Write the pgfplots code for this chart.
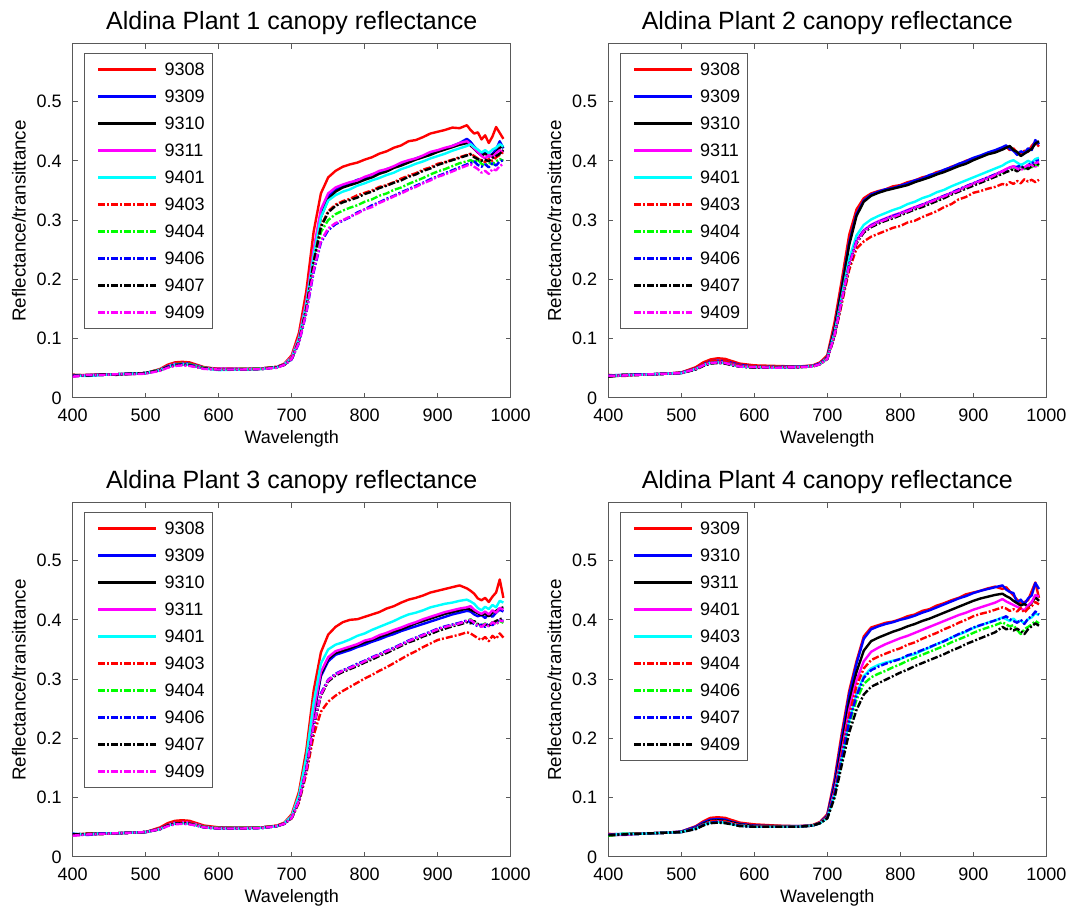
\documentclass[border=0pt]{standalone}
\usepackage{fontspec}
\setmainfont{Liberation Sans}
\usepackage{pgfplots}
\usepackage{pgfplotstable}
\pgfplotsset{compat=1.18}
\usepgfplotslibrary{groupplots}

\definecolor{mred}{rgb}{1,0,0}
\definecolor{mgreen}{rgb}{0,1,0}
\definecolor{mblue}{rgb}{0,0,1}
\definecolor{mcyan}{rgb}{0,1,1}
\definecolor{mmag}{rgb}{1,0,1}
\definecolor{mblack}{rgb}{0,0,0}

% Plant 1: 9308 9309 9310 9311 9401 | 9403 9404 9406 9407 9409
\pgfplotstableread{
w a b c d e f g h i j
400 .038 .037 .039 .036 .038 .039 .037 .038 .037 .036
420 .039 .038 .038 .039 .037 .038 .039 .038 .038 .039
440 .039 .039 .040 .039 .039 .040 .039 .039 .040 .039
460 .040 .040 .040 .040 .040 .040 .040 .040 .039 .040
480 .041 .041 .041 .040 .041 .041 .040 .041 .041 .040
500 .042 .042 .042 .042 .042 .042 .042 .042 .042 .041
520 .049 .048 .047 .048 .047 .048 .048 .047 .047 .046
530 .056 .054 .052 .054 .053 .054 .053 .053 .052 .051
540 .060 .058 .056 .058 .056 .058 .057 .056 .055 .054
550 .061 .059 .057 .058 .057 .059 .058 .057 .056 .055
560 .060 .058 .056 .057 .056 .058 .057 .056 .055 .054
570 .056 .055 .053 .054 .053 .055 .054 .053 .052 .052
580 .052 .051 .050 .051 .050 .051 .051 .050 .050 .049
600 .049 .049 .048 .049 .047 .049 .048 .048 .048 .048
630 .049 .049 .048 .049 .048 .049 .049 .048 .048 .048
660 .050 .050 .049 .050 .049 .050 .050 .049 .049 .049
680 .052 .052 .052 .052 .052 .053 .052 .052 .052 .051
690 .058 .057 .056 .057 .057 .057 .056 .056 .056 .056
700 .072 .068 .067 .069 .068 .067 .066 .065 .066 .066
710 .110 .100 .098 .102 .100 .097 .095 .093 .096 .094
720 .180 .160 .155 .163 .158 .152 .148 .143 .150 .145
730 .280 .245 .238 .250 .240 .230 .222 .212 .228 .215
740 .345 .312 .305 .318 .305 .290 .280 .262 .288 .265
750 .372 .340 .335 .345 .333 .315 .300 .283 .313 .286
760 .383 .352 .348 .355 .342 .326 .310 .293 .324 .295
770 .390 .358 .355 .360 .348 .332 .316 .299 .330 .300
780 .394 .362 .359 .364 .352 .336 .321 .305 .334 .306
790 .397 .368 .363 .367 .358 .342 .325 .313 .338 .311
800 .402 .371 .368 .373 .362 .346 .331 .318 .344 .318
810 .406 .377 .372 .377 .367 .350 .335 .325 .348 .322
820 .412 .380 .378 .383 .371 .356 .341 .330 .354 .329
830 .416 .386 .382 .386 .376 .359 .345 .336 .358 .334
840 .422 .389 .388 .391 .380 .364 .351 .341 .363 .340
850 .426 .395 .392 .397 .386 .370 .355 .347 .367 .345
860 .433 .399 .397 .401 .390 .375 .361 .352 .373 .351
870 .435 .404 .402 .404 .395 .379 .366 .358 .377 .356
880 .440 .408 .406 .409 .399 .385 .371 .363 .383 .362
890 .446 .413 .410 .415 .404 .389 .377 .369 .387 .367
900 .449 .417 .415 .418 .408 .395 .382 .374 .393 .373
910 .452 .420 .419 .422 .412 .398 .386 .379 .397 .377
920 .456 .425 .423 .425 .417 .402 .391 .384 .401 .382
930 .455 .430 .427 .430 .421 .406 .396 .389 .405 .387
940 .460 .437 .430 .433 .425 .410 .399 .394 .409 .392
945 .452 .432 .426 .428 .428 .412 .401 .396 .411 .394
950 .446 .424 .420 .421 .423 .408 .398 .399 .406 .390
955 .448 .418 .414 .415 .419 .404 .402 .393 .403 .386
960 .436 .410 .409 .408 .414 .401 .395 .390 .400 .380
965 .443 .414 .412 .404 .418 .398 .392 .394 .402 .383
970 .430 .407 .408 .410 .413 .403 .397 .389 .399 .378
975 .441 .412 .410 .406 .419 .400 .394 .396 .405 .386
980 .457 .419 .414 .413 .422 .406 .399 .392 .408 .384
985 .447 .433 .422 .418 .428 .410 .403 .399 .412 .391
990 .437 .421 .425 .414 .424 .415 .400 .401 .418 .395
}\plantone

% Plant 2
\pgfplotstableread{
w a b c d e f g h i j
400 .037 .038 .036 .037 .038 .039 .037 .038 .036 .037
420 .038 .039 .038 .039 .038 .037 .039 .038 .039 .038
440 .039 .039 .040 .039 .039 .039 .039 .040 .039 .039
460 .040 .040 .040 .040 .040 .040 .040 .040 .040 .040
480 .041 .041 .041 .041 .041 .041 .041 .041 .041 .041
500 .043 .043 .042 .042 .042 .043 .042 .042 .042 .042
520 .052 .050 .049 .049 .049 .050 .049 .049 .048 .049
530 .060 .057 .056 .056 .055 .057 .055 .055 .054 .055
540 .065 .062 .060 .060 .059 .062 .059 .059 .058 .059
550 .067 .063 .061 .061 .060 .063 .060 .060 .059 .060
560 .066 .062 .060 .060 .059 .062 .059 .059 .058 .059
570 .062 .059 .057 .057 .056 .058 .056 .056 .055 .056
580 .058 .056 .054 .054 .053 .055 .053 .053 .053 .053
600 .055 .053 .052 .052 .052 .053 .052 .052 .051 .052
630 .054 .053 .052 .052 .051 .053 .052 .051 .051 .051
660 .053 .053 .052 .052 .052 .052 .052 .052 .052 .052
680 .055 .054 .054 .054 .054 .054 .053 .054 .053 .053
690 .060 .058 .058 .058 .058 .058 .057 .058 .057 .057
700 .072 .069 .068 .067 .067 .066 .066 .066 .066 .066
710 .128 .118 .116 .108 .110 .104 .106 .107 .105 .106
720 .200 .188 .185 .168 .172 .160 .166 .167 .164 .166
730 .275 .262 .258 .228 .235 .216 .224 .226 .222 .224
740 .318 .310 .307 .266 .274 .252 .263 .265 .261 .263
750 .337 .333 .331 .283 .292 .264 .281 .282 .279 .281
760 .345 .343 .341 .292 .301 .272 .290 .291 .288 .290
770 .349 .348 .346 .298 .307 .277 .296 .297 .294 .296
780 .352 .352 .350 .303 .312 .282 .301 .302 .299 .301
790 .357 .354 .353 .308 .317 .287 .305 .307 .303 .305
800 .359 .358 .356 .312 .321 .290 .310 .311 .308 .310
810 .364 .362 .359 .317 .327 .296 .314 .316 .313 .315
820 .367 .367 .364 .322 .331 .299 .319 .321 .318 .320
830 .372 .370 .368 .326 .337 .305 .324 .326 .322 .325
840 .375 .376 .372 .331 .341 .310 .329 .331 .327 .330
850 .381 .379 .377 .336 .347 .315 .333 .336 .332 .335
860 .384 .385 .381 .341 .351 .322 .339 .341 .337 .340
870 .390 .389 .386 .346 .357 .327 .344 .346 .343 .345
880 .394 .395 .391 .351 .362 .335 .350 .352 .348 .350
890 .400 .399 .395 .357 .367 .339 .355 .357 .353 .356
900 .404 .405 .401 .362 .372 .346 .361 .362 .358 .361
910 .407 .409 .406 .367 .377 .349 .366 .367 .363 .366
920 .412 .414 .411 .372 .382 .353 .370 .372 .368 .370
930 .416 .418 .414 .377 .387 .356 .375 .377 .373 .376
940 .420 .423 .419 .383 .392 .361 .380 .382 .378 .382
945 .424 .426 .422 .386 .396 .359 .383 .385 .381 .386
950 .418 .420 .425 .389 .399 .364 .386 .388 .383 .388
955 .421 .417 .418 .391 .401 .361 .388 .389 .386 .390
960 .414 .410 .415 .388 .397 .366 .385 .390 .382 .387
965 .410 .416 .408 .391 .393 .362 .390 .392 .387 .384
970 .417 .413 .412 .386 .396 .369 .386 .387 .390 .389
975 .415 .421 .416 .392 .400 .365 .392 .393 .386 .393
980 .425 .418 .420 .395 .397 .368 .389 .396 .391 .390
985 .432 .435 .429 .390 .403 .364 .394 .399 .393 .396
990 .424 .428 .433 .396 .405 .368 .392 .401 .395 .398
}\planttwo

% Plant 3
\pgfplotstableread{
w a b c d e f g h i j
400 .038 .039 .037 .036 .039 .038 .037 .039 .038 .036
420 .039 .038 .039 .038 .038 .039 .038 .037 .039 .038
440 .039 .039 .040 .039 .040 .039 .039 .040 .039 .039
460 .040 .040 .040 .040 .040 .040 .040 .040 .040 .040
480 .041 .041 .041 .041 .041 .041 .041 .041 .041 .041
500 .042 .042 .042 .042 .042 .042 .042 .042 .042 .042
520 .050 .048 .048 .048 .047 .048 .047 .047 .047 .047
530 .057 .054 .054 .054 .053 .054 .053 .053 .053 .052
540 .061 .058 .058 .058 .056 .058 .056 .056 .056 .055
550 .062 .059 .058 .059 .057 .059 .057 .057 .057 .056
560 .061 .058 .057 .058 .056 .058 .056 .056 .056 .055
570 .057 .055 .054 .055 .053 .055 .054 .053 .053 .053
580 .053 .051 .051 .051 .050 .051 .051 .050 .050 .050
600 .050 .049 .049 .049 .048 .049 .049 .048 .048 .048
630 .049 .049 .049 .049 .048 .049 .049 .048 .048 .048
660 .050 .050 .050 .050 .049 .050 .050 .049 .049 .049
680 .053 .052 .052 .052 .052 .053 .052 .052 .052 .052
690 .058 .057 .057 .057 .057 .057 .056 .056 .056 .056
700 .072 .067 .067 .068 .069 .065 .066 .066 .066 .066
710 .110 .098 .099 .101 .104 .092 .095 .095 .094 .095
720 .180 .155 .157 .160 .168 .140 .148 .148 .146 .147
730 .280 .238 .240 .245 .260 .205 .222 .222 .219 .221
740 .345 .305 .308 .312 .326 .245 .275 .276 .272 .274
750 .375 .330 .334 .337 .350 .262 .298 .299 .296 .298
760 .388 .341 .344 .347 .358 .272 .308 .309 .306 .308
770 .396 .345 .348 .351 .362 .280 .314 .315 .312 .314
780 .400 .349 .352 .355 .367 .287 .319 .320 .317 .319
790 .401 .354 .357 .359 .373 .294 .324 .326 .322 .324
800 .405 .358 .362 .365 .377 .301 .330 .331 .328 .330
810 .409 .363 .366 .368 .383 .307 .335 .337 .333 .336
820 .413 .367 .371 .374 .388 .314 .341 .342 .339 .341
830 .419 .372 .375 .378 .393 .320 .346 .348 .344 .347
840 .423 .376 .380 .383 .398 .327 .352 .353 .350 .352
850 .429 .381 .384 .387 .404 .334 .357 .359 .356 .358
860 .434 .385 .389 .392 .409 .341 .364 .365 .362 .364
870 .437 .389 .394 .396 .412 .347 .368 .370 .366 .369
880 .441 .393 .398 .401 .416 .354 .374 .375 .372 .374
890 .446 .397 .402 .405 .421 .360 .378 .380 .376 .379
900 .449 .401 .406 .409 .424 .366 .383 .385 .381 .384
910 .452 .405 .410 .413 .427 .369 .387 .389 .385 .388
920 .455 .409 .413 .416 .429 .372 .391 .392 .389 .391
930 .458 .412 .416 .419 .432 .375 .394 .395 .392 .394
940 .453 .415 .419 .421 .434 .379 .398 .399 .396 .398
945 .449 .414 .417 .423 .431 .377 .401 .396 .394 .400
950 .444 .409 .414 .417 .427 .373 .396 .393 .398 .395
955 .436 .406 .411 .413 .420 .369 .392 .389 .393 .391
960 .433 .408 .408 .410 .416 .366 .390 .392 .389 .388
965 .437 .403 .410 .414 .422 .371 .394 .388 .392 .393
970 .430 .410 .406 .409 .418 .364 .389 .394 .390 .389
975 .439 .405 .412 .416 .425 .373 .396 .391 .395 .396
980 .446 .412 .415 .412 .421 .368 .392 .397 .398 .392
985 .468 .417 .419 .420 .432 .377 .398 .400 .401 .399
990 .437 .414 .421 .417 .429 .370 .395 .398 .403 .397
}\plantthree

% Plant 4: 9309 9310 9311 9401 9403 | 9404 9406 9407 9409
\pgfplotstableread{
w a b c d e f g h i
400 .037 .038 .036 .038 .037 .039 .036 .038 .037
420 .038 .039 .038 .037 .039 .038 .039 .038 .038
440 .039 .039 .040 .039 .039 .040 .039 .039 .039
460 .040 .040 .040 .040 .040 .040 .040 .040 .040
480 .041 .041 .041 .041 .041 .041 .041 .041 .041
500 .043 .043 .042 .042 .042 .042 .042 .042 .042
520 .052 .051 .049 .048 .048 .049 .048 .048 .047
530 .060 .058 .056 .054 .054 .055 .054 .054 .053
540 .066 .063 .061 .059 .058 .060 .058 .058 .057
550 .067 .064 .062 .060 .059 .061 .059 .059 .058
560 .066 .063 .061 .059 .058 .060 .058 .058 .057
570 .062 .059 .058 .056 .055 .057 .055 .055 .055
580 .058 .056 .055 .053 .053 .054 .053 .053 .052
600 .055 .053 .052 .051 .051 .052 .051 .051 .051
630 .053 .052 .052 .051 .051 .052 .051 .051 .051
660 .052 .052 .051 .051 .051 .051 .051 .051 .051
680 .054 .053 .053 .053 .053 .053 .053 .053 .053
690 .059 .058 .058 .058 .057 .058 .057 .057 .057
700 .072 .070 .068 .067 .066 .067 .066 .066 .065
710 .132 .126 .118 .112 .106 .110 .104 .106 .100
720 .210 .202 .190 .178 .168 .174 .163 .167 .156
730 .280 .274 .262 .248 .230 .240 .224 .228 .210
740 .330 .326 .312 .298 .275 .288 .265 .272 .248
750 .372 .368 .348 .330 .305 .318 .292 .302 .274
760 .387 .384 .364 .346 .318 .332 .303 .315 .287
770 .391 .389 .370 .353 .324 .338 .309 .321 .293
780 .395 .393 .375 .359 .328 .343 .314 .326 .299
790 .397 .396 .380 .364 .331 .348 .320 .330 .305
800 .401 .400 .384 .369 .334 .352 .325 .334 .311
810 .406 .403 .389 .373 .339 .358 .331 .340 .316
820 .409 .407 .393 .378 .342 .362 .336 .344 .322
830 .415 .412 .398 .383 .348 .368 .341 .349 .327
840 .418 .416 .402 .388 .353 .373 .346 .354 .332
850 .424 .421 .407 .393 .359 .378 .351 .359 .337
860 .428 .426 .412 .398 .364 .384 .356 .364 .342
870 .433 .431 .417 .403 .370 .389 .362 .370 .348
880 .437 .436 .422 .408 .375 .395 .367 .376 .353
890 .443 .440 .427 .412 .380 .400 .372 .381 .359
900 .446 .445 .432 .417 .386 .406 .378 .387 .364
910 .449 .449 .436 .421 .391 .410 .383 .391 .369
920 .453 .452 .439 .425 .395 .413 .387 .395 .374
930 .456 .455 .442 .429 .399 .417 .391 .399 .379
940 .452 .458 .444 .435 .404 .421 .396 .403 .388
945 .455 .451 .440 .431 .401 .419 .392 .406 .384
950 .448 .447 .437 .428 .398 .415 .389 .401 .386
955 .441 .445 .432 .425 .402 .418 .391 .398 .382
960 .434 .429 .428 .422 .396 .414 .383 .395 .385
965 .427 .434 .424 .419 .399 .420 .376 .400 .381
970 .430 .426 .427 .416 .394 .412 .384 .393 .376
975 .433 .436 .422 .424 .401 .419 .388 .402 .384
980 .448 .441 .429 .430 .404 .423 .392 .406 .389
985 .463 .462 .438 .442 .411 .430 .398 .414 .394
990 .437 .452 .432 .439 .408 .426 .394 .409 .390
}\plantfour

\pgfplotsset{
  sl/.style={line width=1.2pt, solid, line join=round},
  dd/.style={line width=1.2pt, dash pattern=on 3.5pt off 1pt on 1pt off 1pt, line join=round},
}

\begin{document}
\begin{tikzpicture}
\begin{groupplot}[
  group style={group size=2 by 2, horizontal sep=48.8pt, vertical sep=52.5pt},
  scale only axis, width=219pt, height=177pt,
  xmin=400, xmax=1000, ymin=0, ymax=0.597,
  xtick={400,500,600,700,800,900,1000},
  xticklabels={400,500,600,700,800,900,1000},
  ytick={0,0.1,0.2,0.3,0.4,0.5},
  yticklabels={0,0.1,0.2,0.3,0.4,0.5},
  tick align=inside, major tick length=2.5pt,
  axis line style={black!65, line width=0.5pt},
  tick style={black!65, line width=0.5pt},
  ticklabel style={font=\fontsize{9}{11}\selectfont},
  xticklabel style={yshift=-1.7pt},
  yticklabel style={xshift=-2pt},
  xlabel={Wavelength},
  ylabel={Reflectance/transittance},
  xlabel style={font=\fontsize{9}{11}\selectfont, at={(axis description cs:0.5,0)}, anchor=base, yshift=-23pt},
  ylabel style={font=\fontsize{9.4}{11}\selectfont, at={(axis description cs:-0.1228,0.5)}, anchor=center},
  every axis title shift=0pt,
  title style={at={(axis description cs:0.5,1)}, anchor=base, yshift=7pt, font=\fontsize{12.5}{15}\selectfont},
  no markers,
  legend cell align=left,
  legend image code/.code={\path (0pt,0pt); \draw[#1] (6.2pt,0pt) -- (35pt,0pt);},
  legend style={at={(0.0265,0.975)}, anchor=north west, draw=black!65, line width=0.5pt,
    fill=white, inner xsep=0pt, inner ysep=1.4pt, row sep=0pt,
    font=\fontsize{9}{11}\selectfont,
    nodes={inner xsep=3.7pt, inner ysep=0pt, text height=9.8pt, text depth=3.7pt}},
]
\nextgroupplot[title={Aldina Plant 1 canopy reflectance}]
\addplot[sl, mred] table[x=w, y=a] {\plantone};
\addplot[sl, mblue] table[x=w, y=b] {\plantone};
\addplot[sl, mblack] table[x=w, y=c] {\plantone};
\addplot[sl, mmag] table[x=w, y=d] {\plantone};
\addplot[sl, mcyan] table[x=w, y=e] {\plantone};
\addplot[dd, mred] table[x=w, y=f] {\plantone};
\addplot[dd, mgreen] table[x=w, y=g] {\plantone};
\addplot[dd, mblue] table[x=w, y=h] {\plantone};
\addplot[dd, mblack] table[x=w, y=i] {\plantone};
\addplot[dd, mmag] table[x=w, y=j] {\plantone};
\legend{9308,9309,9310,9311,9401,9403,9404,9406,9407,9409}

\nextgroupplot[title={Aldina Plant 2 canopy reflectance}]
\addplot[sl, mred] table[x=w, y=a] {\planttwo};
\addplot[sl, mblue] table[x=w, y=b] {\planttwo};
\addplot[sl, mblack] table[x=w, y=c] {\planttwo};
\addplot[sl, mmag] table[x=w, y=d] {\planttwo};
\addplot[sl, mcyan] table[x=w, y=e] {\planttwo};
\addplot[dd, mred] table[x=w, y=f] {\planttwo};
\addplot[dd, mgreen] table[x=w, y=g] {\planttwo};
\addplot[dd, mblue] table[x=w, y=h] {\planttwo};
\addplot[dd, mblack] table[x=w, y=i] {\planttwo};
\addplot[dd, mmag] table[x=w, y=j] {\planttwo};
\legend{9308,9309,9310,9311,9401,9403,9404,9406,9407,9409}

\nextgroupplot[title={Aldina Plant 3 canopy reflectance}]
\addplot[sl, mred] table[x=w, y=a] {\plantthree};
\addplot[sl, mblue] table[x=w, y=b] {\plantthree};
\addplot[sl, mblack] table[x=w, y=c] {\plantthree};
\addplot[sl, mmag] table[x=w, y=d] {\plantthree};
\addplot[sl, mcyan] table[x=w, y=e] {\plantthree};
\addplot[dd, mred] table[x=w, y=f] {\plantthree};
\addplot[dd, mgreen] table[x=w, y=g] {\plantthree};
\addplot[dd, mblue] table[x=w, y=h] {\plantthree};
\addplot[dd, mblack] table[x=w, y=i] {\plantthree};
\addplot[dd, mmag] table[x=w, y=j] {\plantthree};
\legend{9308,9309,9310,9311,9401,9403,9404,9406,9407,9409}

\nextgroupplot[title={Aldina Plant 4 canopy reflectance}]
\addplot[sl, mred] table[x=w, y=a] {\plantfour};
\addplot[sl, mblue] table[x=w, y=b] {\plantfour};
\addplot[sl, mblack] table[x=w, y=c] {\plantfour};
\addplot[sl, mmag] table[x=w, y=d] {\plantfour};
\addplot[sl, mcyan] table[x=w, y=e] {\plantfour};
\addplot[dd, mred] table[x=w, y=f] {\plantfour};
\addplot[dd, mgreen] table[x=w, y=g] {\plantfour};
\addplot[dd, mblue] table[x=w, y=h] {\plantfour};
\addplot[dd, mblack] table[x=w, y=i] {\plantfour};
\legend{9309,9310,9311,9401,9403,9404,9406,9407,9409}
\end{groupplot}
\pgfresetboundingbox
\path[use as bounding box] (group c1r1.north west) ++(-36.35pt,22pt) rectangle ++(535pt,-454pt);
\end{tikzpicture}
\end{document}
